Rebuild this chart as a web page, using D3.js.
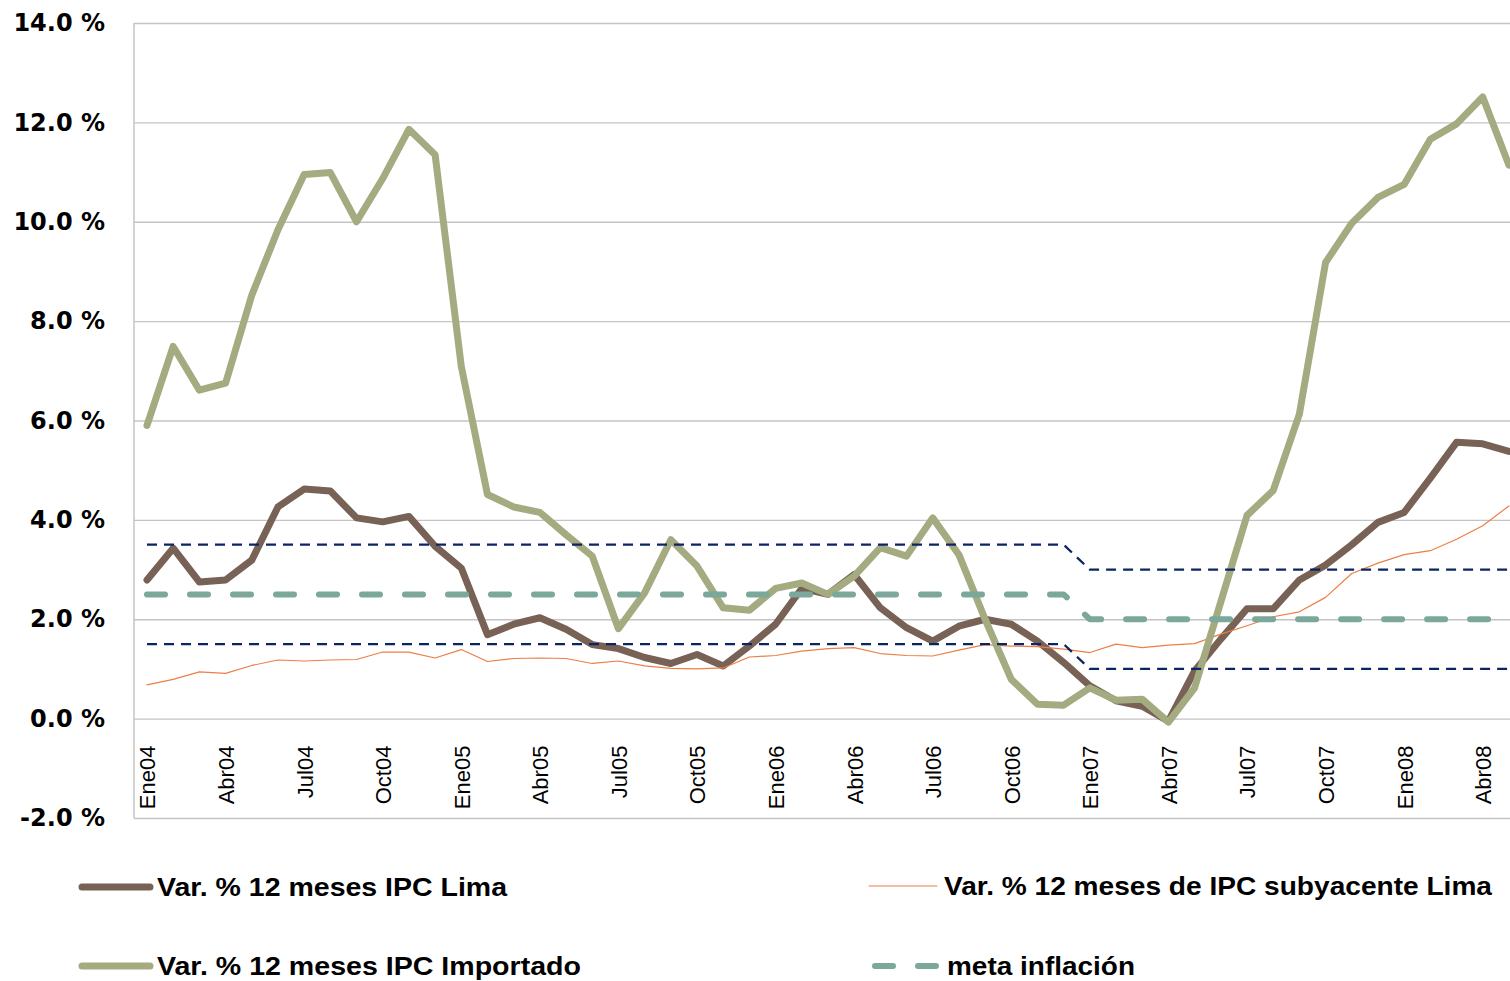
<!DOCTYPE html>
<html>
<head>
<meta charset="utf-8">
<script src="https://cdn.jsdelivr.net/npm/d3@7"></script>
<style>
  html, body { margin: 0; padding: 0; background: #fff; overflow: hidden; }
  svg { display: block; }
</style>
</head>
<body>
<script>
// ---------------- DATA ----------------
const months = [
  "Ene04","Feb04","Mar04","Abr04","May04","Jun04","Jul04","Ago04","Set04","Oct04","Nov04","Dic04",
  "Ene05","Feb05","Mar05","Abr05","May05","Jun05","Jul05","Ago05","Set05","Oct05","Nov05","Dic05",
  "Ene06","Feb06","Mar06","Abr06","May06","Jun06","Jul06","Ago06","Set06","Oct06","Nov06","Dic06",
  "Ene07","Feb07","Mar07","Abr07","May07","Jun07","Jul07","Ago07","Set07","Oct07","Nov07","Dic07",
  "Ene08","Feb08","Mar08","Abr08","May08"
];
const tickLabels = ["Ene04","Abr04","Jul04","Oct04","Ene05","Abr05","Jul05","Oct05",
  "Ene06","Abr06","Jul06","Oct06","Ene07","Abr07","Jul07","Oct07","Ene08","Abr08"];
const yTicks = [-2, 0, 2, 4, 6, 8, 10, 12, 14];

const ipcLima = [2.79,3.43,2.75,2.79,3.19,4.26,4.62,4.58,4.04,3.96,4.07,3.47,
  3.03,1.69,1.90,2.03,1.80,1.49,1.41,1.23,1.11,1.29,1.06,1.46,
  1.90,2.62,2.50,2.90,2.23,1.83,1.56,1.86,2.00,1.90,1.56,1.13,
  0.66,0.36,0.25,-0.05,0.96,1.60,2.21,2.21,2.79,3.09,3.50,3.95,
  4.15,4.84,5.56,5.53,5.38];
const ipcSubyacente = [0.68,0.79,0.94,0.91,1.07,1.18,1.16,1.18,1.19,1.34,1.34,1.22,
  1.39,1.15,1.21,1.22,1.21,1.11,1.16,1.06,1.01,1.00,1.02,1.24,
  1.27,1.36,1.41,1.43,1.31,1.27,1.26,1.38,1.49,1.46,1.45,1.40,
  1.33,1.50,1.43,1.48,1.51,1.70,1.87,2.05,2.15,2.44,2.92,3.13,
  3.30,3.38,3.61,3.88,4.28];
const ipcImportado = [5.90,7.49,6.61,6.75,8.52,9.84,10.95,10.99,10.00,10.87,11.86,11.35,
  7.09,4.51,4.26,4.15,3.70,3.27,1.81,2.53,3.60,3.07,2.23,2.18,
  2.62,2.73,2.50,2.87,3.44,3.27,4.04,3.30,2.00,0.79,0.29,0.27,
  0.62,0.37,0.39,-0.07,0.62,2.35,4.09,4.59,6.13,9.18,9.97,10.49,
  10.75,11.66,11.97,12.51,11.14];
const metaInflacion = [2.5,2.5,2.5,2.5,2.5,2.5,2.5,2.5,2.5,2.5,2.5,2.5,
  2.5,2.5,2.5,2.5,2.5,2.5,2.5,2.5,2.5,2.5,2.5,2.5,
  2.5,2.5,2.5,2.5,2.5,2.5,2.5,2.5,2.5,2.5,2.5,2.5,
  2.0,2.0,2.0,2.0,2.0,2.0,2.0,2.0,2.0,2.0,2.0,2.0,
  2.0,2.0,2.0,2.0,2.0];
const bandaSuperior = [3.5,3.5,3.5,3.5,3.5,3.5,3.5,3.5,3.5,3.5,3.5,3.5,
  3.5,3.5,3.5,3.5,3.5,3.5,3.5,3.5,3.5,3.5,3.5,3.5,
  3.5,3.5,3.5,3.5,3.5,3.5,3.5,3.5,3.5,3.5,3.5,3.5,
  3.0,3.0,3.0,3.0,3.0,3.0,3.0,3.0,3.0,3.0,3.0,3.0,
  3.0,3.0,3.0,3.0,3.0];
const bandaInferior = [1.5,1.5,1.5,1.5,1.5,1.5,1.5,1.5,1.5,1.5,1.5,1.5,
  1.5,1.5,1.5,1.5,1.5,1.5,1.5,1.5,1.5,1.5,1.5,1.5,
  1.5,1.5,1.5,1.5,1.5,1.5,1.5,1.5,1.5,1.5,1.5,1.5,
  1.0,1.0,1.0,1.0,1.0,1.0,1.0,1.0,1.0,1.0,1.0,1.0,
  1.0,1.0,1.0,1.0,1.0];
const legendNames = ["Var. % 12 meses IPC Lima", "Var. % 12 meses de IPC subyacente Lima",
  "Var. % 12 meses IPC Importado", "meta inflación"];

// ---------------- CHART ----------------
const W = 1530, H = 981;
const plotLeft = 134, plotRight = 1524;
const svg = d3.select("body").append("svg").attr("width", W).attr("height", H);

const x = d3.scalePoint().domain(months).range([147, 1508.9]);
const y = d3.scaleLinear().domain([-2, 14]).range([818, 23]);

// gridlines + y labels
const yAxis = d3.axisLeft(y).tickValues(yTicks).tickSize(-(plotRight - plotLeft))
  .tickPadding(29).tickFormat(d => d.toFixed(1) + " %");
const gy = svg.append("g").attr("transform", `translate(${plotLeft},0)`).call(yAxis);
gy.select(".domain").remove();
gy.selectAll(".tick line").attr("stroke", "#C4C4C4").attr("stroke-width", 1.3);
gy.selectAll(".tick text")
  .attr("font-family", "'DejaVu Sans', sans-serif").attr("font-weight", "bold")
  .attr("font-size", 24).attr("fill", "#000");

// left axis line
svg.append("line").attr("x1", plotLeft).attr("x2", plotLeft)
  .attr("y1", y(14)).attr("y2", y(-2)).attr("stroke", "#C4C4C4").attr("stroke-width", 1.5);

// x axis labels
const xAxis = d3.axisBottom(x).tickValues(tickLabels).tickSize(0);
const gx = svg.append("g").attr("transform", `translate(0,${y(0)})`).call(xAxis);
gx.select(".domain").remove();
gx.selectAll(".tick text")
  .attr("font-family", "'Liberation Sans', Arial, sans-serif").attr("font-size", 22)
  .attr("fill", "#000")
  .attr("y", 0).attr("x", -27).attr("dy", "0.36em")
  .attr("transform", "rotate(-90)").style("text-anchor", "end");

// clip for series
svg.append("clipPath").attr("id", "plotclip").append("rect")
  .attr("x", plotLeft).attr("y", 0).attr("width", plotRight - plotLeft).attr("height", H);

const line = d3.line().x((d, i) => x(months[i])).y(d => y(d));
const series = svg.append("g").attr("clip-path", "url(#plotclip)");

function drawLine(data, color, width, dash, cap) {
  series.append("path").datum(data)
    .attr("d", line).attr("fill", "none")
    .attr("stroke", color).attr("stroke-width", width)
    .attr("stroke-linejoin", "round").attr("stroke-linecap", cap || "round")
    .attr("stroke-dasharray", dash || null);
}

const cLima = "#786155", cSub = "#EB7F45", cImp = "#A4AB80", cMeta = "#7BA89B", cBand = "#0B2463";

drawLine(ipcLima, cLima, 7);
drawLine(ipcSubyacente, cSub, 1.2);
drawLine(ipcImportado, cImp, 7);
drawLine(metaInflacion, cMeta, 6, "18,25");
drawLine(bandaSuperior, cBand, 2.3, "10,7", "butt");
drawLine(bandaInferior, cBand, 2.3, "10,7", "butt");

// ---------------- LEGEND ----------------
const legendItems = [
  { name: legendNames[0], color: cLima, width: 7, dash: null, lx: 82, ly: 887, tw: 350 },
  { name: legendNames[1], color: cSub, width: 1.2, dash: null, lx: 869, ly: 886, tw: 548 },
  { name: legendNames[2], color: cImp, width: 7, dash: null, lx: 82, ly: 966, tw: 424 },
  { name: legendNames[3], color: cMeta, width: 6, dash: "18,25", lx: 872, ly: 966, tw: 188 }
];
const lg = svg.append("g");
legendItems.forEach(it => {
  lg.append("line").attr("x1", it.lx + (it.dash ? 3 : 0)).attr("x2", it.lx + 68)
    .attr("y1", it.ly).attr("y2", it.ly)
    .attr("stroke", it.color).attr("stroke-width", it.width)
    .attr("stroke-linecap", "round").attr("stroke-dasharray", it.dash);
  lg.append("text").text(it.name)
    .attr("x", it.lx + 75).attr("y", it.ly + 9)
    .attr("font-family", "'Liberation Sans', Arial, sans-serif").attr("font-weight", "bold")
    .attr("font-size", 26).attr("fill", "#000")
    .attr("textLength", it.tw).attr("lengthAdjust", "spacingAndGlyphs");
});
</script>
</body>
</html>
